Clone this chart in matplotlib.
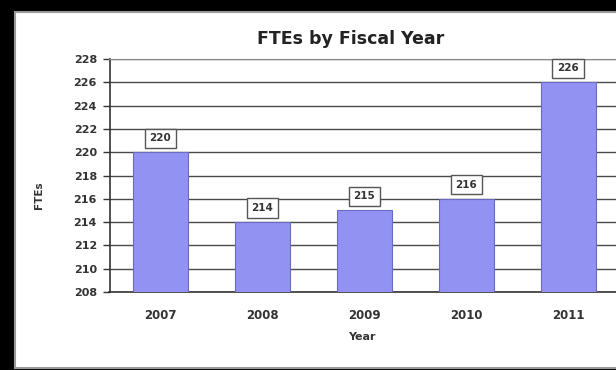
import matplotlib
matplotlib.use("Agg")
import matplotlib.pyplot as plt
from matplotlib.patches import Rectangle

# Full-time equivalents per fiscal year
years = ["2007", "2008", "2009", "2010", "2011"]
ftes = [220, 214, 215, 216, 226]
y_ticks = list(range(208, 229, 2))

W, H = 616, 370
fig = plt.figure(figsize=(W / 100, H / 100), dpi=100)
fig.patch.set_facecolor("black")

# white chart panel inside the black frame
panel = Rectangle((15 / W, 2 / H), 1.2, (358 - 2) / H, transform=fig.transFigure,
                  facecolor="white", edgecolor="#9a9a9a", linewidth=1.5, zorder=-5)
fig.patches.append(panel)

left_px, right_px, top_px, bottom_px = 109.5, 619, 59, 292
ax = fig.add_axes([left_px / W, (H - bottom_px) / H,
                   (right_px - left_px) / W, (bottom_px - top_px) / H])
ax.set_zorder(2)
ax.set_facecolor("white")

x = range(len(years))
bars = ax.bar(x, ftes, width=0.54, color="#9292f2",
              edgecolor="#6a6ac0", linewidth=0.8, zorder=3)
ax.set_xlim(-0.5, len(years) - 0.5)
ax.set_ylim(208, 228)
ax.set_yticks(y_ticks)
ax.set_yticklabels([str(v) for v in y_ticks], fontsize=8, fontweight="bold", color="#333333")
ax.set_xticks(list(x))
ax.set_xticklabels(years, fontsize=8.5, fontweight="bold", color="#333333")
ax.tick_params(axis="x", length=0, pad=12)
ax.tick_params(axis="y", length=5, width=1, color="#333333", pad=4)

ax.yaxis.grid(True, color="#4a4a4a", linewidth=1.0, zorder=1)
ax.set_axisbelow(True)
for side in ("left", "bottom"):
    ax.spines[side].set_color("#333333")
    ax.spines[side].set_linewidth(1.2)
ax.spines["top"].set_color("#8a8a8a")
ax.spines["right"].set_visible(False)

# value labels in small boxes above each bar
for xi, v in zip(x, ftes):
    ax.annotate(str(v), xy=(xi, v), xytext=(0, 9), textcoords="offset pixels",
                ha="center", va="bottom", fontsize=7.5, fontweight="bold", color="#333333",
                bbox=dict(boxstyle="square,pad=0.45", facecolor="white",
                          edgecolor="#555555", linewidth=1.0), zorder=5)

fig.text(351 / W, 1 - 39 / H, "FTEs by Fiscal Year", ha="center", va="center",
         fontsize=12.5, fontweight="bold", color="#222222")
fig.text(362 / W, 1 - 337 / H, "Year", ha="center", va="center",
         fontsize=8, fontweight="bold", color="#333333")
fig.text(39 / W, 1 - 195 / H, "FTEs", ha="center", va="center", rotation=90,
         fontsize=7.5, fontweight="bold", color="#333333")

fig.savefig("out.png", dpi=100, facecolor=fig.get_facecolor())
